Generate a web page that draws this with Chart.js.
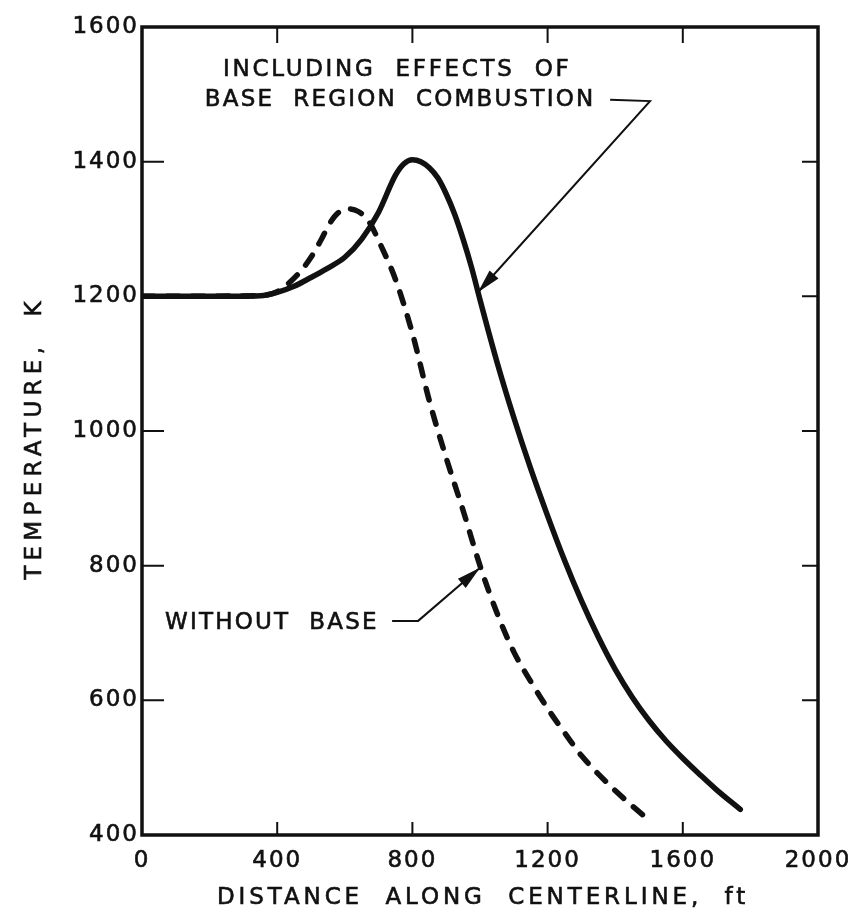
<!DOCTYPE html>
<html>
<head>
<meta charset="utf-8">
<script src="https://cdn.jsdelivr.net/npm/chart.js@4.4.1/dist/chart.umd.min.js"></script>
<style>
  html, body { margin: 0; padding: 0; background: #fff; }
  #wrap { width: 848px; height: 914px; }
</style>
</head>
<body>
<div id="wrap"><canvas id="c" width="848" height="914"></canvas></div>
<script>
'use strict';

// ── Data ─────────────────────────────────────────────────────────────────
// distance along centerline, ft  /  temperature, K
const solidX = [0, 200, 350, 400, 450, 500, 550, 600, 650, 700, 750, 775, 800, 825, 850, 875, 900, 925, 950, 975, 1000, 1050, 1100, 1150, 1200, 1250, 1300, 1350, 1400, 1450, 1500, 1550, 1600, 1650, 1700, 1770];
const solidT = [1200, 1200, 1201, 1206, 1215, 1228, 1242, 1258, 1285, 1325, 1380, 1397, 1403, 1400, 1391, 1376, 1352, 1322, 1285, 1243, 1195, 1103, 1020, 944, 874, 808, 748, 694, 646, 605, 570, 540, 514, 490, 467, 438];

const dashX = [0, 350, 400, 460, 500, 530, 555, 580, 610, 640, 670, 710, 750, 800, 850, 900, 950, 1000, 1050, 1100, 1150, 1200, 1260, 1300, 1400, 1490];
const dashT = [1200, 1201, 1207, 1232, 1258, 1284, 1308, 1324, 1330, 1326, 1312, 1272, 1225, 1145, 1045, 960, 882, 800, 730, 672, 628, 588, 545, 518, 466, 426];

const xTicks = [0, 400, 800, 1200, 1600, 2000];
const yTicks = [400, 600, 800, 1000, 1200, 1400, 1600];

const xTitle = 'DISTANCE  ALONG  CENTERLINE,  ft';
const yTitle = 'TEMPERATURE,  K';
const noteWith = ['INCLUDING  EFFECTS  OF', 'BASE  REGION  COMBUSTION'];
const noteWithout = 'WITHOUT  BASE';

const INK = '#111';
const FONT = '"DejaVu Sans", "Liberation Sans", sans-serif';

const toPts = (xs, ys) => xs.map((x, i) => ({ x, y: ys[i] }));

// ── Frame, inner ticks, titles and labelled arrows ───────────────────────
function arrow(ctx, pts, head) {
  ctx.beginPath();
  ctx.moveTo(pts[0][0], pts[0][1]);
  for (let i = 1; i < pts.length; i++) ctx.lineTo(pts[i][0], pts[i][1]);
  ctx.stroke();
  const [x1, y1] = pts[pts.length - 2], [x2, y2] = pts[pts.length - 1];
  const a = Math.atan2(y2 - y1, x2 - x1);
  ctx.beginPath();
  ctx.moveTo(x2, y2);
  ctx.lineTo(x2 - head * Math.cos(a) + 6 * Math.sin(a), y2 - head * Math.sin(a) - 6 * Math.cos(a));
  ctx.lineTo(x2 - head * Math.cos(a) - 6 * Math.sin(a), y2 - head * Math.sin(a) + 6 * Math.cos(a));
  ctx.closePath();
  ctx.fill();
}

// fill plus a hairline stroke, to get the heavier pen lettering
function letter(ctx, text, x, y) {
  ctx.fillText(text, x, y);
  ctx.strokeText(text, x, y);
}

const paperPlugin = {
  id: 'paper',
  beforeDraw(chart) {
    // lettering on the original is widely spaced; applies to tick labels too
    chart.ctx.letterSpacing = '2px';
  },
  afterDraw(chart) {
    const { ctx, chartArea: a, scales: { x, y } } = chart;
    const px = v => x.getPixelForValue(v), py = v => y.getPixelForValue(v);
    ctx.save();
    ctx.strokeStyle = INK;
    ctx.fillStyle = INK;

    // inner tick marks on all four sides
    ctx.lineWidth = 2;
    ctx.beginPath();
    xTicks.slice(1, -1).forEach(v => {
      ctx.moveTo(px(v), a.bottom); ctx.lineTo(px(v), a.bottom - 13);
      ctx.moveTo(px(v), a.top);    ctx.lineTo(px(v), a.top + 16);
    });
    yTicks.slice(1, -1).forEach(v => {
      ctx.moveTo(a.left, py(v));  ctx.lineTo(a.left + 22, py(v));
      ctx.moveTo(a.right, py(v)); ctx.lineTo(a.right - 16, py(v));
    });
    ctx.stroke();

    // frame
    ctx.lineWidth = 3.5;
    ctx.strokeRect(a.left, a.top, a.right - a.left, a.bottom - a.top);

    // axis titles
    ctx.font = '23px ' + FONT;
    ctx.lineWidth = 0.6;
    ctx.textAlign = 'center';
    ctx.textBaseline = 'middle';
    ctx.letterSpacing = '3.9px';
    letter(ctx, xTitle, 483, 898);
    ctx.save();
    ctx.letterSpacing = '5.3px';
    ctx.translate(35, 438);
    ctx.rotate(-Math.PI / 2);
    letter(ctx, yTitle, 0, 0);
    ctx.restore();

    // annotations
    ctx.textAlign = 'left';
    ctx.letterSpacing = '2.7px';
    letter(ctx, noteWith[0], px(240), py(1536));
    ctx.letterSpacing = '2.2px';
    letter(ctx, noteWith[1], px(186), py(1492));
    letter(ctx, noteWithout, px(68), py(715));

    ctx.lineWidth = 2;
    arrow(ctx, [[px(1385), py(1492)], [px(1503), py(1490)], [px(994), py(1206)]], 24);
    arrow(ctx, [[px(740), py(718)], [px(817), py(718)], [px(1000), py(797)]], 24);
    ctx.restore();
    ctx.letterSpacing = '0px';
  }
};

// ── Chart ────────────────────────────────────────────────────────────────
const tickFont = { family: FONT, size: 23 };

new Chart(document.getElementById('c'), {
  type: 'scatter',
  data: {
    datasets: [
      {
        label: 'Including effects of base region combustion',
        data: toPts(solidX, solidT),
        showLine: true, borderColor: INK, borderWidth: 5.5,
        borderCapStyle: 'round', borderJoinStyle: 'round',
        cubicInterpolationMode: 'monotone', pointRadius: 0
      },
      {
        label: 'Without base',
        data: toPts(dashX, dashT),
        showLine: true, borderColor: INK, borderWidth: 5.5,
        borderDash: [12, 13], borderCapStyle: 'round', borderJoinStyle: 'round',
        cubicInterpolationMode: 'monotone', pointRadius: 0
      }
    ]
  },
  options: {
    responsive: false,
    animation: false,
    layout: { padding: { top: 27, right: 30, left: 0, bottom: 0 } },
    plugins: { legend: { display: false }, tooltip: { enabled: false } },
    scales: {
      x: {
        type: 'linear', min: 0, max: 2000,
        afterBuildTicks: s => { s.ticks = xTicks.map(value => ({ value })); },
        afterFit: s => { s.height = 79; s.paddingRight = 0; },
        grid: { display: false, drawTicks: false },
        border: { display: false },
        ticks: { color: INK, padding: 12, maxRotation: 0, callback: v => String(v), font: tickFont,
                 textStrokeColor: INK, textStrokeWidth: 0.6 }
      },
      y: {
        type: 'linear', min: 400, max: 1600,
        afterBuildTicks: s => { s.ticks = yTicks.map(value => ({ value })); },
        afterFit: s => { s.width = 142; },
        grid: { display: false, drawTicks: false },
        border: { display: false },
        ticks: { color: INK, padding: 3, callback: v => String(v), font: tickFont,
                 textStrokeColor: INK, textStrokeWidth: 0.6 }
      }
    }
  },
  plugins: [paperPlugin]
});
</script>
</body>
</html>
